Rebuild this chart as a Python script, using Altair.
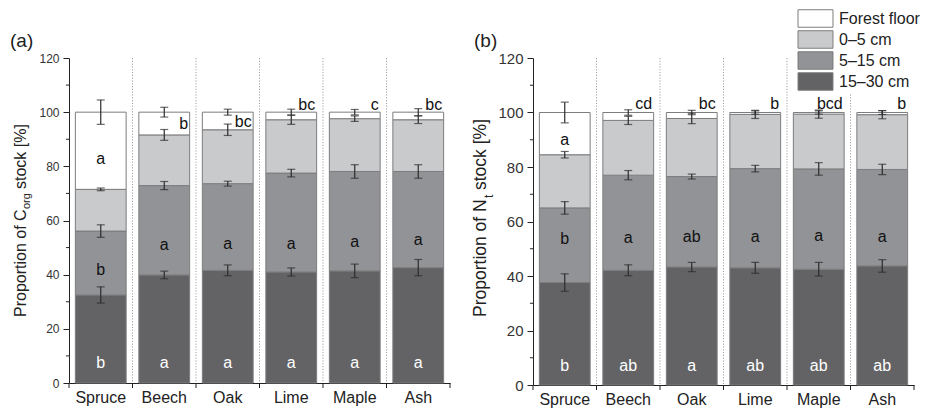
import altair as alt
import pandas as pd

species = ["Spruce", "Beech", "Oak", "Lime", "Maple", "Ash"]
layer_names = ["15–30 cm", "5–15 cm", "0–5 cm", "Forest floor"]
legend_order = ["Forest floor", "0–5 cm", "5–15 cm", "15–30 cm"]
layer_colors = ["#ffffff", "#c9cacc", "#929397", "#636366"]

# ---- Panel (a): C_org, cumulative upper boundary of each layer [%]
c_top_1530 = [32.5, 39.9, 41.6, 41.0, 41.4, 42.6]
c_top_515 = [56.1, 72.9, 73.6, 77.5, 78.1, 78.1]
c_top_05 = [71.5, 91.6, 93.5, 97.2, 97.6, 97.2]
c_top_ff = [100, 100, 100, 100, 100, 100]
c_err_1530 = [3.0, 1.4, 2.0, 1.5, 2.5, 3.0]
c_err_515 = [2.3, 1.5, 0.9, 1.4, 2.5, 2.5]
c_err_05 = [0.5, 2.0, 2.1, 1.7, 1.0, 1.4]
c_err_ff = [4.5, 1.8, 1.1, 1.1, 1.0, 1.3]

c_let_1530 = ["b", "a", "a", "a", "a", "a"]
c_let_1530_y = [7.5, 7.5, 7.5, 7.5, 7.5, 7.5]
c_let_515 = ["b", "a", "a", "a", "a", "a"]
c_let_515_y = [41.8, 50.8, 51.4, 51.4, 52.0, 52.7]
c_let_ff = ["a", "b", "bc", "bc", "c", "bc"]
c_let_ff_y = [82.8, 95.7, 96.2, 102.5, 102.5, 102.5]

# ---- Panel (b): N_t
n_top_1530 = [37.6, 42.1, 43.3, 43.0, 42.5, 43.7]
n_top_515 = [65.0, 77.0, 76.5, 79.4, 79.3, 79.1]
n_top_05 = [84.5, 97.1, 97.8, 99.3, 99.4, 99.2]
n_top_ff = [100, 100, 100, 100, 100, 100]
n_err_1530 = [3.2, 2.0, 1.7, 2.0, 2.5, 2.3]
n_err_515 = [2.3, 1.7, 0.9, 1.2, 2.3, 1.9]
n_err_05 = [1.2, 1.5, 1.9, 1.5, 1.5, 1.5]
n_err_ff = [3.8, 1.0, 0.8, 0.6, 0.6, 0.7]

n_let_1530 = ["b", "ab", "a", "ab", "ab", "ab"]
n_let_1530_y = [7.0, 7.0, 7.0, 7.0, 7.0, 7.0]
n_let_515 = ["b", "a", "ab", "a", "a", "a"]
n_let_515_y = [53.5, 54.0, 54.3, 54.3, 54.7, 54.3]
n_let_ff = ["a", "cd", "bc", "b", "bcd", "b"]
n_let_ff_y = [89.8, 103.0, 103.0, 103.0, 103.0, 103.0]

major_ticks = [0, 20, 40, 60, 80, 100, 120]
minor_ticks = [10, 30, 50, 70, 90, 110]

FONT = "Liberation Sans"
DARK = "#222222"
PANEL_W = 381


def build_frames(tops, errs, letters):
    rows = []
    for i, sp in enumerate(species):
        prev = 0.0
        for j, name in enumerate(layer_names):
            top = tops[j][i]
            rows.append({"sp": sp, "layer": name, "y0": prev, "y1": top,
                         "lo": top - errs[j][i], "hi": top + errs[j][i]})
            prev = top
    bars = pd.DataFrame(rows)
    lrows = []
    for kind, (lets, ys) in letters.items():
        for i, sp in enumerate(species):
            inside = not (kind == "ff" and i > 0)
            lrows.append({"sp": sp, "txt": lets[i], "y": ys[i], "kind": kind,
                          "inside": inside})
    labs = pd.DataFrame(lrows)
    return bars, labs


def panel(tops, errs, letters, height, ylab_size, title_parts, tag, legend):
    bars, labs = build_frames(tops, errs, letters)
    xenc = alt.X("sp:N", sort=species,
                 scale=alt.Scale(paddingInner=0, paddingOuter=0),
                 axis=alt.Axis(title=None, ticks=False, labelAngle=0,
                               bandPosition=0.5, labelAlign="center",
                               labelFontSize=16, labelColor=DARK, labelFont=FONT,
                               domainColor=DARK, labelPadding=6, grid=False))
    yscale = alt.Scale(domain=[0, 120], nice=False)
    yaxis = alt.Axis(title=None, values=major_ticks, tickSize=6, tickColor=DARK,
                     domainColor=DARK, labelFontSize=ylab_size, labelColor="#333333",
                     labelFont=FONT, labelPadding=4, grid=False)

    color = alt.Color("layer:N",
                      scale=alt.Scale(domain=legend_order, range=layer_colors),
                      legend=legend)

    base = alt.Chart(bars)
    bar = base.mark_bar(width=alt.RelativeBandSize(0.8), stroke="#7d7d7d",
                        strokeWidth=1).encode(
        x=xenc, y=alt.Y("y0:Q", scale=yscale, axis=yaxis), y2="y1:Q", color=color)

    sep = alt.Chart(pd.DataFrame({"sp": species[1:]})).mark_rule(
        color="#8a8a8a", strokeWidth=0.8, strokeDash=[1.2, 1.6]).encode(
        x=alt.X("sp:N", sort=species, bandPosition=0),
        y=alt.value(0), y2=alt.value(height))

    # x-axis ticks at the band boundaries
    xticks = alt.Chart(pd.DataFrame({"sp": species})).mark_rule(
        color=DARK, strokeWidth=1).encode(
        x=alt.X("sp:N", sort=species, bandPosition=0),
        y=alt.value(height), y2=alt.value(height + 5))
    xtick_end = alt.Chart(pd.DataFrame({"k": [0]})).mark_rule(
        color=DARK, strokeWidth=1).encode(
        x=alt.value(PANEL_W), y=alt.value(height), y2=alt.value(height + 5))

    err = base.mark_rule(color="#2b2b2b", strokeWidth=1.2).encode(
        x=alt.X("sp:N", sort=species), y="lo:Q", y2="hi:Q")
    cap_lo = base.mark_tick(orient="horizontal", size=8, thickness=1.2,
                            color="#2b2b2b").encode(x=alt.X("sp:N", sort=species), y="lo:Q")
    cap_hi = base.mark_tick(orient="horizontal", size=8, thickness=1.2,
                            color="#2b2b2b").encode(x=alt.X("sp:N", sort=species), y="hi:Q")

    lab_in = alt.Chart(labs).transform_filter("datum.inside").mark_text(
        font=FONT, fontSize=16, baseline="middle", align="center").encode(
        x=alt.X("sp:N", sort=species), y="y:Q", text="txt:N",
        color=alt.condition("datum.kind == 'b1530'", alt.value("#ffffff"),
                            alt.value("#111111")))
    lab_top = alt.Chart(labs).transform_filter("!datum.inside").mark_text(
        font=FONT, fontSize=16, baseline="middle", align="right", dx=24,
        color="#111111").encode(x=alt.X("sp:N", sort=species), y="y:Q", text="txt:N")

    minor = alt.Chart(pd.DataFrame({"v": minor_ticks})).mark_rule(
        color=DARK, strokeWidth=1).encode(
        y="v:Q", x=alt.value(0), x2=alt.value(-3))

    one = pd.DataFrame({"k": [0]})
    texts = []
    for (txt, fs, xpx, ypx) in title_parts:
        texts.append(alt.Chart(one).mark_text(
            text=txt, font=FONT, fontSize=fs, angle=270, align="left",
            baseline="middle", color=DARK).encode(x=alt.value(xpx), y=alt.value(ypx)))
    tag_txt = alt.Chart(one).mark_text(
        text=tag, font=FONT, fontSize=19, align="left", baseline="top",
        color=DARK).encode(x=alt.value(-59), y=alt.value(-26))

    return alt.layer(bar, sep, err, cap_lo, cap_hi, lab_in, lab_top, minor,
                     xticks, xtick_end, *texts, tag_txt).properties(
        width=PANEL_W, height=height)


letters_a = {"b1530": (c_let_1530, c_let_1530_y), "b515": (c_let_515, c_let_515_y),
             "ff": (c_let_ff, c_let_ff_y)}
letters_b = {"b1530": (n_let_1530, n_let_1530_y), "b515": (n_let_515, n_let_515_y),
             "ff": (n_let_ff, n_let_ff_y)}

title_a = [("Proportion of C", 16, -48, 259), ("org", 11, -42, 151),
           ("stock [%]", 16, -48, 131)]
title_b = [("Proportion of N", 17.5, -52, 259), ("t", 12, -44, 140),
           ("stock [%]", 17.5, -52, 132)]

# legend symbol: 2:1 rectangle; layout extent = sqrt(size) = 17.5 px high, 35 px wide
legend_b = alt.Legend(title=None, orient="none", legendX=273, legendY=-49,
                      symbolType="M-2,-1H2V1H-2Z", symbolSize=306,
                      symbolStrokeColor="#7d7d7d", symbolStrokeWidth=1,
                      symbolOpacity=1, labelFontSize=16, labelFont=FONT,
                      labelColor=DARK, labelOffset=14, rowPadding=-3,
                      fillColor="#ffffff", labelLimit=200, padding=0)

pa = panel([c_top_1530, c_top_515, c_top_05, c_top_ff],
           [c_err_1530, c_err_515, c_err_05, c_err_ff],
           letters_a, 325, 12, title_a, "(a)", None)
pb = panel([n_top_1530, n_top_515, n_top_05, n_top_ff],
           [n_err_1530, n_err_515, n_err_05, n_err_ff],
           letters_b, 327, 15, title_b, "(b)", legend_b)

chart = alt.hconcat(pa, pb, spacing=83, bounds="flush").resolve_scale(
    color="independent").properties(
    padding={"left": 10, "top": 9, "right": 5, "bottom": 5},
    background="#ffffff").configure_view(stroke=None)

chart.save("out.html", embed_options={"renderer": "svg", "actions": False})
